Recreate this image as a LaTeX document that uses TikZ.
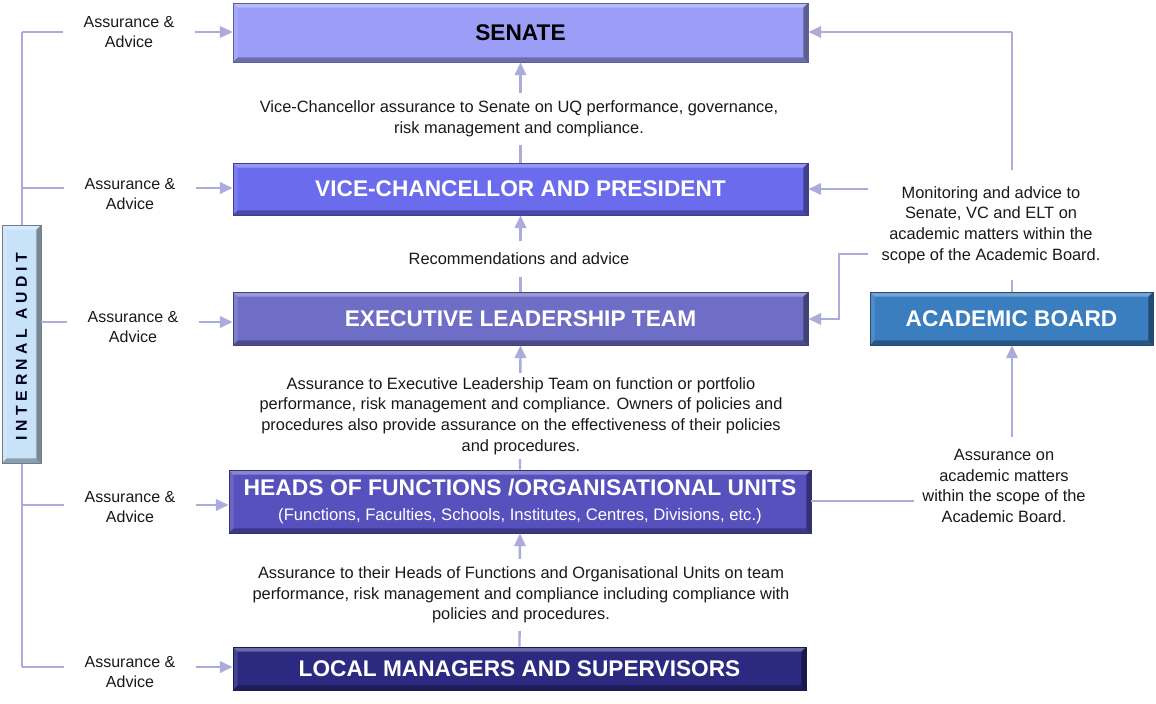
\documentclass[tikz,border=0pt]{standalone}
\usepackage{fontspec}
\setmainfont{Liberation Sans}
\usetikzlibrary{arrows.meta,calc}
\definecolor{lnc}{HTML}{ABABDC}
\definecolor{csen}{HTML}{9B9DF7}
\definecolor{cvc}{HTML}{6B6BEE}
\definecolor{celt}{HTML}{6F6EC6}
\definecolor{chead}{HTML}{5751BE}
\definecolor{cloc}{HTML}{2C2A80}
\definecolor{cab}{HTML}{3A7EC0}
\definecolor{cia}{HTML}{C8E3F8}
\tikzset{
  bevel/.style={path picture={
    \fill[white,opacity=0.30] (path picture bounding box.north west) -- (path picture bounding box.north east) -- ([xshift=-3.5pt,yshift=-3.5pt]path picture bounding box.north east) -- ([xshift=3.5pt,yshift=-3.5pt]path picture bounding box.north west) -- cycle;
    \fill[white,opacity=0.12] (path picture bounding box.north west) -- ([xshift=3.5pt,yshift=-3.5pt]path picture bounding box.north west) -- ([xshift=3.5pt,yshift=3.5pt]path picture bounding box.south west) -- (path picture bounding box.south west) -- cycle;
    \fill[black,opacity=0.30] (path picture bounding box.south west) -- (path picture bounding box.south east) -- ([xshift=-3.5pt,yshift=3.5pt]path picture bounding box.south east) -- ([xshift=3.5pt,yshift=3.5pt]path picture bounding box.south west) -- cycle;
    \fill[black,opacity=0.40] (path picture bounding box.north east) -- (path picture bounding box.south east) -- ([xshift=-3.5pt,yshift=3.5pt]path picture bounding box.south east) -- ([xshift=-3.5pt,yshift=-3.5pt]path picture bounding box.north east) -- cycle;
  }},
  box/.style={bevel, draw=#1!60!black, line width=0.6pt, fill=#1, inner sep=0pt, align=center,
    text=white, font=\fontsize{17}{20}\selectfont\bfseries},
  ln/.style={draw=lnc, line width=1.8pt},
  arr/.style={ln, -{Triangle[length=9.5pt,width=8.5pt]}},
  lbl/.style={fill=white, inner sep=0pt, align=center, font=\fontsize{12}{15}\selectfont, text=black!90},
  mid/.style={fill=white, inner xsep=2pt, align=center, font=\fontsize{12.3}{15.5}\selectfont, text=black!90},
}
\begin{document}
\begin{tikzpicture}[x=0.75pt,y=-0.75pt]
\useasboundingbox (0,0) rectangle (1156,703);
% boxes
\node[box=csen, text=black, minimum width=431.25pt, minimum height=44.25pt] (sen) at (520.5,32.5) {SENATE};
\node[box=cvc, minimum width=431.25pt, minimum height=39pt] (vc) at (520.5,189) {VICE-CHANCELLOR AND PRESIDENT};
\node[box=celt, minimum width=431.25pt, minimum height=39.75pt] (elt) at (520.5,318.5) {EXECUTIVE LEADERSHIP TEAM};
\node[box=chead, minimum width=436.5pt, minimum height=47.25pt] (head) at (520,501.5) {\scalebox{1.01}[1]{HEADS OF FUNCTIONS /ORGANISATIONAL UNITS}\\[-1pt]{\fontsize{12.5}{14}\selectfont\mdseries (Functions, Faculties, Schools, Institutes, Centres, Divisions, etc.)}};
\node[box=cloc, minimum width=429.75pt, minimum height=32.25pt] (loc) at (519.5,668.5) {LOCAL MANAGERS AND SUPERVISORS};
\node[box=cab, minimum width=212.25pt, minimum height=39.75pt] (ab) at (1011.5,318.5) {ACADEMIC BOARD};

% left tree
\coordinate (t1) at (22,32);
\coordinate (t2) at (22,188);
\coordinate (t4) at (22,505);
\coordinate (t5) at (22,667);
\draw[ln] (t1) -- (t5);
\node[bevel, draw=cia!55!black, line width=0.6pt, fill=cia, minimum width=29.25pt, minimum height=178.5pt, inner sep=0pt] (ia) at (21.5,344) {};
\node[rotate=90, font=\fontsize{11.8}{13}\selectfont\bfseries\addfontfeature{LetterSpace=29}, text=black!85!blue] at ([yshift=-2pt]ia.center) {INTERNAL AUDIT};
\draw[arr] (t1) -- (t1 -| sen.west);
\draw[arr] (t2) -- (t2 -| vc.west);
\draw[arr] (ia.east |- 0,322) -- (elt.west |- 0,322);
\draw[arr] (t4) -- (t4 -| head.west);
\draw[arr] (t5) -- (t5 -| loc.west);
\node[lbl, minimum width=99pt, minimum height=33pt] at (129,32) {Assurance \&\\Advice};
\node[lbl, minimum width=99pt, minimum height=33pt] at (130,194) {Assurance \&\\Advice};
\node[lbl, minimum width=99pt, minimum height=33pt] at (133,327) {Assurance \&\\Advice};
\node[lbl, minimum width=99pt, minimum height=33pt] at (130,507) {Assurance \&\\Advice};
\node[lbl, minimum width=99pt, minimum height=33pt] at (130,672) {Assurance \&\\Advice};

% centre chain
\draw[arr] (vc.north) -- (sen.south);
\draw[arr] (elt.north) -- (vc.south);
\draw[arr] (head.north) -- (elt.south);
\draw[arr] (loc.north) -- (head.south);
\node[mid, inner ysep=6pt] at (519,119) {Vice-Chancellor assurance to Senate on UQ performance, governance,\\risk management and compliance.};
\node[mid, inner ysep=9pt] at (519,259) {Recommendations and advice};
\node[mid, inner ysep=3pt] at (521,416) {Assurance to Executive Leadership Team on function or portfolio\\performance, risk management and compliance. Owners of policies and\\procedures also provide assurance on the effectiveness of their policies\\and procedures.};
\node[mid, inner ysep=6pt] at (521,595) {Assurance to their Heads of Functions and Organisational Units on team\\performance, risk management and compliance including compliance with\\policies and procedures.};

% right side
\coordinate (rc) at (1012,501);
\coordinate (tc) at (1012,32);
\draw[ln] (head.east |- rc) -- (rc);
\draw[arr] (rc) -- (rc |- ab.south);
\draw[ln] (rc |- ab.north) -- (tc);
\draw[arr] (tc) -- (sen.east |- tc);
\node[mid, inner xsep=6pt, inner ysep=9pt, minimum width=135pt] (asr) at (1004,486) {Assurance on\\academic matters\\within the scope of the\\Academic Board.};
\node[mid, inner xsep=0pt, inner ysep=0pt, minimum width=184.5pt, minimum height=82.5pt] (mon) at (991,225) {Monitoring and advice to\\Senate, VC and ELT on\\academic matters within the\\scope of the Academic Board.};
\coordinate (m1) at (839,254);
\draw[arr] (mon.west |- vc.east) -- (vc.east);
\draw[arr] (mon.west |- m1) -- (m1) -- (m1 |- 0,319) -- (elt.east |- 0,319);
\end{tikzpicture}
\end{document}
